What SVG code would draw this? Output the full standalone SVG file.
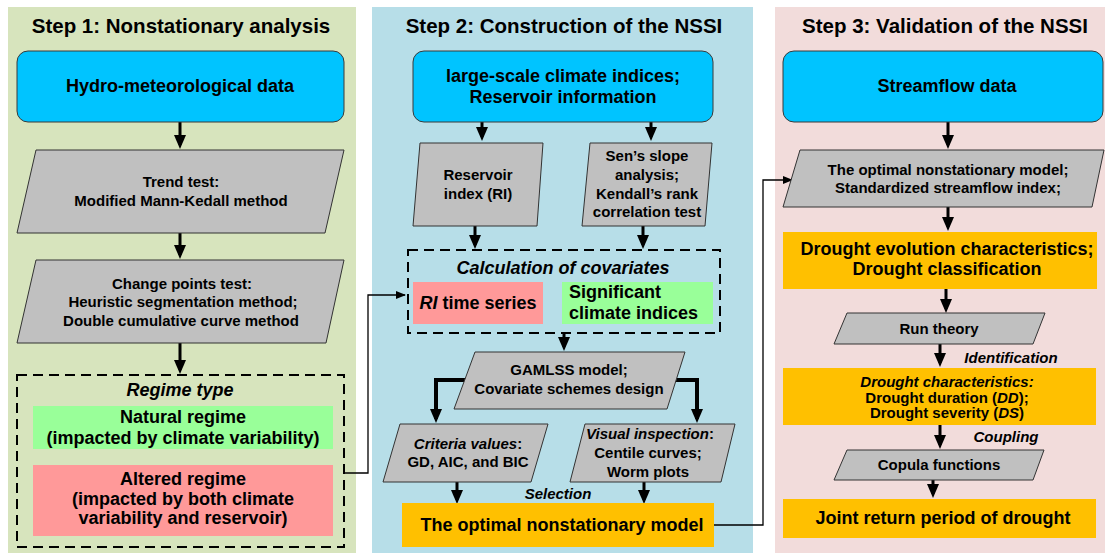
<svg xmlns="http://www.w3.org/2000/svg" width="1105" height="553" viewBox="0 0 1105 553">
<defs>
<marker id="ah" viewBox="0 0 14 12" refX="10" refY="6" markerWidth="14" markerHeight="12" orient="auto" markerUnits="userSpaceOnUse"><path d="M0,0 L14,6 L0,12 z" fill="#000"/></marker>
<marker id="ahs" viewBox="0 0 10 8" refX="9" refY="4" markerWidth="10" markerHeight="8" orient="auto" markerUnits="userSpaceOnUse"><path d="M0,0 L10,4 L0,8 z" fill="#000"/></marker>
<style>
text{font-family:"Liberation Sans",Arial,sans-serif;font-weight:bold;fill:#000;text-anchor:middle}
.title{font-size:20.5px}
.t18{font-size:18px}
.t15{font-size:15px}
.it{font-style:italic}
.blue{fill:#00c4ff;stroke:#3a3a3a;stroke-width:1}
.gray{fill:#c0c0c0;stroke:#333;stroke-width:1}
.green{fill:#99ff99}
.red{fill:#ff9999}
.orange{fill:#ffc000}
.dash{fill:none;stroke:#000;stroke-width:2;stroke-dasharray:10,6}
.arr{stroke:#000;stroke-width:3;fill:none;marker-end:url(#ah)}
.thick{stroke:#000;stroke-width:4;fill:none;marker-end:url(#ah)}
.thin{stroke:#000;stroke-width:1.3;fill:none;marker-end:url(#ahs)}
</style>
</defs>
<g id="panels">
<rect x="8" y="7" width="348" height="546" fill="#d7e4bd"/>
<rect x="372" y="7" width="381" height="546" fill="#b7dee8"/>
<rect x="775" y="7" width="330" height="546" fill="#f2dcdb"/>
<text class="title" x="181" y="33">Step 1: Nonstationary analysis</text>
<text class="title" x="564" y="33">Step 2: Construction of the NSSI</text>
<text class="title" x="945" y="33">Step 3: Validation of the NSSI</text>
</g>
<g id="connectors">
<line class="arr" x1="180" y1="122" x2="180" y2="145"/>
<line class="arr" x1="180" y1="233" x2="180" y2="255"/>
<line class="arr" x1="180" y1="343" x2="180" y2="370"/>
<polyline class="thin" points="344,473 368,473 368,295 405,295"/>
<line class="arr" x1="482" y1="122" x2="482" y2="137"/>
<line class="arr" x1="651" y1="122" x2="651" y2="137"/>
<line class="arr" x1="475" y1="226" x2="475" y2="245"/>
<line class="arr" x1="643" y1="226" x2="643" y2="245"/>
<line class="arr" x1="564" y1="333" x2="564" y2="347"/>
<polyline class="thick" points="466,380 436,380 436,419"/>
<polyline class="thick" points="675,380 697,380 697,419"/>
<line class="arr" x1="457" y1="482" x2="457" y2="500"/>
<line class="arr" x1="644" y1="482" x2="644" y2="500"/>
<text class="t15 it" x="558" y="499">Selection</text>
<polyline class="thin" points="714,525 763,525 763,180 792,180"/>
<line class="arr" x1="948" y1="122" x2="948" y2="145"/>
<line class="arr" x1="948" y1="207" x2="948" y2="227"/>
<line class="arr" x1="946" y1="289" x2="946" y2="309"/>
<line class="arr" x1="940" y1="344" x2="940" y2="363"/>
<text class="t15 it" x="1011" y="363">Identification</text>
<line class="arr" x1="940" y1="425" x2="940" y2="445"/>
<text class="t15 it" x="1006" y="442">Coupling</text>
<line class="arr" x1="933" y1="480" x2="933" y2="494"/>
</g>
<g id="hydro-data">
<rect class="blue" x="17" y="51" width="327" height="71" rx="11"/>
<text class="t18" x="180" y="92">Hydro-meteorological data</text>
</g>
<g id="trend-test">
<polygon class="gray" points="36,150 344,150 325,233 17,233"/>
<text class="t15" x="181" y="187">Trend test:</text>
<text class="t15" x="181" y="206">Modified Mann-Kedall method</text>
</g>
<g id="change-points">
<polygon class="gray" points="36,260 344,260 326,343 17,343"/>
<text class="t15" x="182" y="289">Change points test:</text>
<text class="t15" x="183" y="307">Heuristic segmentation method;</text>
<text class="t15" x="181" y="326">Double cumulative curve method</text>
</g>
<g id="regime-type">
<rect class="dash" x="17" y="375" width="327" height="172"/>
<text class="t18 it" x="180" y="396">Regime type</text>
<rect class="green" x="33" y="406" width="300" height="43"/>
<text class="t18" x="183" y="423">Natural regime</text>
<text class="t18" x="183" y="444">(impacted by climate variability)</text>
<rect class="red" x="33" y="465" width="300" height="71"/>
<text class="t18" x="183" y="485">Altered regime</text>
<text class="t18" x="183" y="505">(impacted by both climate</text>
<text class="t18" x="183" y="524">variability and reservoir)</text>
</g>
<g id="climate-reservoir">
<rect class="blue" x="413" y="51" width="300" height="71" rx="11"/>
<text class="t18" x="563" y="82">large-scale climate indices;</text>
<text class="t18" x="563" y="103">Reservoir information</text>
</g>
<g id="reservoir-index">
<polygon class="gray" points="420,143 543,143 537,226 413,226"/>
<text class="t15" x="478" y="180">Reservoir</text>
<text class="t15" x="478" y="199">index (RI)</text>
</g>
<g id="sens-slope">
<polygon class="gray" points="590,143 712,143 705,226 582,226"/>
<text class="t15" x="647" y="161">Sen’s slope</text>
<text class="t15" x="647" y="180">analysis;</text>
<text class="t15" x="647" y="199">Kendall’s rank</text>
<text class="t15" x="647" y="217">correlation test</text>
</g>
<g id="covariates">
<rect class="dash" x="408" y="250" width="312" height="83"/>
<text class="t18 it" x="563" y="274">Calculation of covariates</text>
<rect class="red" x="413" y="282" width="130" height="42"/>
<text class="t18" x="478" y="309"><tspan font-style="italic">RI</tspan> time series</text>
<rect class="green" x="562" y="282" width="151" height="42"/>
<text class="t18" x="569" y="298" style="text-anchor:start">Significant</text>
<text class="t18" x="569" y="319" style="text-anchor:start">climate indices</text>
</g>
<g id="gamlss">
<polygon class="gray" points="475,352 685,352 667,409 454,409"/>
<text class="t15" x="569" y="375">GAMLSS model;</text>
<text class="t15" x="569" y="394">Covariate schemes design</text>
</g>
<g id="criteria">
<polygon class="gray" points="400,424 548,424 531,482 383,482"/>
<text class="t15" x="468" y="449"><tspan font-style="italic">Criteria values</tspan>:</text>
<text class="t15" x="468" y="467">GD, AIC, and BIC</text>
</g>
<g id="visual">
<polygon class="gray" points="585,424 735,424 721,482 570,482"/>
<text class="t15" x="650" y="439"><tspan font-style="italic">Visual inspection</tspan>:</text>
<text class="t15" x="648" y="458">Centile curves;</text>
<text class="t15" x="648" y="477">Worm plots</text>
</g>
<g id="optimal-model">
<rect class="orange" x="402" y="503" width="312" height="44"/>
<text class="t18" x="562" y="531">The optimal nonstationary model</text>
</g>
<g id="streamflow">
<rect class="blue" x="783" y="51" width="320" height="71" rx="11"/>
<text class="t18" x="947" y="92">Streamflow data</text>
</g>
<g id="ssi">
<polygon class="gray" points="800,150 1104,150 1092,207 783,207"/>
<text class="t15" x="948" y="175">The optimal nonstationary model;</text>
<text class="t15" x="948" y="193">Standardized streamflow index;</text>
</g>
<g id="evolution">
<rect class="orange" x="783" y="232" width="314" height="57"/>
<text class="t18" x="947" y="255">Drought evolution characteristics;</text>
<text class="t18" x="947" y="275">Drought classification</text>
</g>
<g id="run-theory">
<polygon class="gray" points="847,313 1045,313 1033,344 834,344"/>
<text class="t15" x="939" y="334">Run theory</text>
</g>
<g id="characteristics">
<rect class="orange" x="783" y="368" width="313" height="57"/>
<text class="t15 it" x="947" y="387">Drought characteristics:</text>
<text class="t15" x="947" y="403">Drought duration (<tspan font-style="italic">DD</tspan>);</text>
<text class="t15" x="947" y="418">Drought severity (<tspan font-style="italic">DS</tspan>)</text>
</g>
<g id="copula">
<polygon class="gray" points="847,450 1044,450 1033,480 834,480"/>
<text class="t15" x="939" y="470">Copula functions</text>
</g>
<g id="return-period">
<rect class="orange" x="783" y="499" width="313" height="39"/>
<text class="t18" x="943" y="524">Joint return period of drought</text>
</g>
</svg>
